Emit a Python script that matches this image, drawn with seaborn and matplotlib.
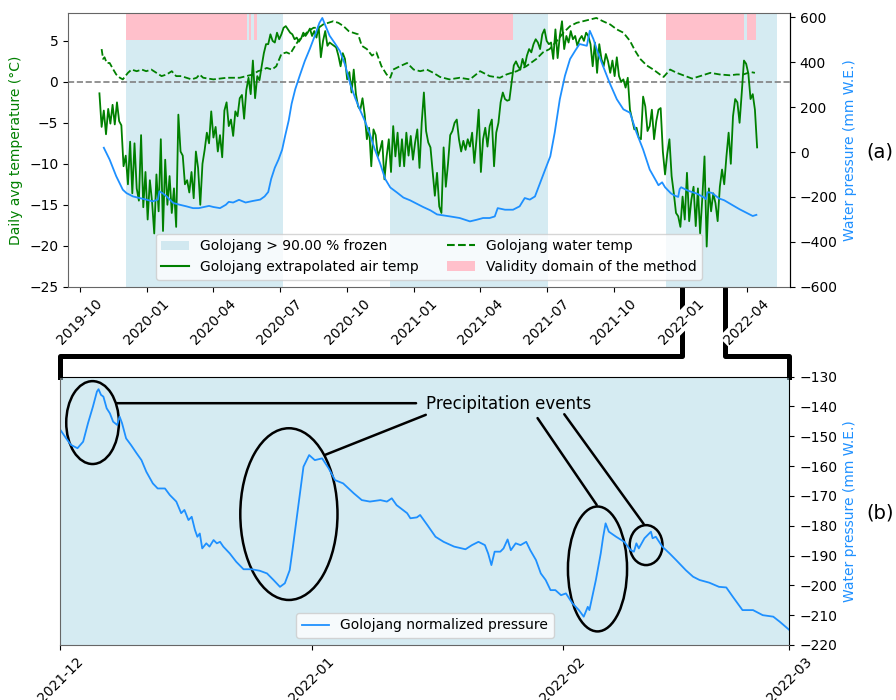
"""Golojang lake: temperatures, frozen periods and water pressure, with a zoom on winter 2021-22."""

import pandas as pd
import seaborn as sns
import matplotlib.pyplot as plt
import matplotlib.dates as mdates
from matplotlib.lines import Line2D
from matplotlib.patches import Ellipse, Patch

# ---- data ---------------------------------------------------------------
ORIGIN = pd.Timestamp("2019-10-01")

# extrapolated air temperature (degC), one value every 3 days from 2019-10-28
air_start = "2019-10-28"
air_temp = [
    -1.4, -5.5, -3.5, -6.4, -3.3, -5.1, -2.8, -5.2, -2.5, -4.8, -5.3,
    -10.3, -9.0, -12.5, -7.3, -13.6, -7.5, -13.0, -14.5, -6.5, -15.3,
    -11.0, -16.8, -12.0, -14.6, -18.5, -11.3, -15.8, -7.0, -18.2, -9.5,
    -15.0, -11.5, -16.0, -13.0, -17.7,
    -4.0, -8.5, -9.0, -12.5, -12.0, -13.5, -11.0, -14.2, -8.5, -10.5,
    -15.0, -10.0, -8.3, -6.2, -7.5, -3.6, -6.8, -5.5, -8.5, -6.5,
    -9.2, -3.5, -2.5, -5.4, -4.6, -6.6, -3.6, -4.2, -2.0, -1.6,
    -4.5, -1.0, 0.5, -1.5, 2.6,
    -2.0, 0.7, 0.2, 1.9, 3.5, 4.6, 4.6, 5.8, 5.0, 4.8,
    6.0, 5.2, 5.8, 6.6, 6.8, 6.4, 6.0, 5.8, 5.2, 5.4,
    4.9, 5.3, 6.0, 5.6, 6.0, 6.5, 5.6, 6.2, 5.4, 6.8,
    3.0, 5.0, 6.2, 4.4, 4.8, 4.6, 4.4, 4.2, 3.2, 1.9,
    3.5, 2.8, 0.3, 1.2, -1.3, 1.5, -1.5, -3.0, -3.4, -2.0,
    -4.0, -7.0, -5.6, -10.3, -5.8, -6.5, -9.1, -8.3, -7.2, -11.9,
    -9.1, -7.0, -11.0, -5.4, -9.1, -6.2, -10.3, -7.0, -10.3, -6.2,
    -9.0, -6.6, -9.5, -7.4, -5.8, -10.5, -5.0, -1.3, -6.0, -7.4,
    -8.0, -11.0, -13.9, -11.1, -15.2, -16.0, -8.0, -12.8, -10.0,
    -6.5, -6.0, -5.0, -4.6, -7.0, -8.5, -7.2, -8.3, -7.0, -7.9,
    -6.2, -9.9, -7.0, -3.4, -11.0, -7.0, -5.6, -7.9, -5.4, -4.6,
    -10.3, -6.2, -5.0, -2.5, -1.3, -2.1, -2.3, -2.2, -0.1, 2.0,
    2.5, 1.9, 1.5, 2.8, 1.9, 3.2, 4.0, 3.6, 4.6, 5.2,
    4.8, 4.0, 5.8, 6.4, 5.0, 4.6, 4.8, 2.8, 6.4, 2.9,
    5.6, 7.4, 4.0, 5.6, 4.8, 6.2, 5.2, 5.6, 4.4, 5.2,
    5.6, 5.0, 6.0, 5.6, 4.6, 1.9, 4.8, 1.1, 4.6, 2.8,
    1.9, 3.4, 2.5, 1.1, 2.6, 0.7, 3.0, 0.7, 0.0, 0.3,
    -0.7, 0.5, -3.4, -4.6, -5.8, -5.6, -6.8, -7.0, -1.8, -3.0,
    -6.0, -5.4, -3.4, -7.0, -4.8, -3.4, -3.2, -8.5, -11.3, -8.8,
    -7.0, -11.5, -13.6, -16.0, -16.4, -17.7, -14.0, -16.8, -11.1, -17.0,
    -14.4, -12.8, -17.6, -13.0, -18.5, -14.2, -9.1, -20.1, -13.0, -15.8,
    -13.6, -14.8, -17.0, -12.8, -10.7, -12.5, -9.1, -6.2, -10.0, -4.2,
    -2.1, -2.5, -5.0, -1.3, 2.6, 2.2, 1.0, -2.1, -1.5, -3.4,
    -8.0,
]

# water temperature (degC), days since 2019-10-01
water_day = [
    30, 32, 34, 37, 41, 46, 50, 55, 59, 66, 71, 78, 85, 91, 98, 105, 112, 119,
    126, 132, 139, 146, 153, 160, 164, 169, 176, 183, 192, 201, 210, 219, 228,
    237, 244, 251, 256, 263, 269, 276, 283, 288, 292, 299, 306, 313, 320, 327,
    333, 340, 347, 354, 361, 368, 374, 381, 386, 393, 400, 406, 413, 420, 425,
    429, 438, 448, 457, 466, 475, 484, 493, 506, 520, 534, 548, 561, 575, 584,
    598, 611, 625, 634, 643, 653, 662, 671, 680, 689, 698, 707, 716, 726, 735,
    744, 753, 760, 767, 776, 785, 794, 799, 808, 817, 826, 838, 849, 863, 876,
    890, 899, 908, 918, 924,
]
water_temp = [
    4.0, 2.8, 3.0, 2.3, 2.3, 1.5, 0.9, 0.5, 0.3, 1.1, 1.5, 1.3, 1.5, 1.3, 1.5,
    1.1, 0.7, 0.9, 1.3, 0.7, 0.7, 0.5, 0.3, 0.5, 0.9, 0.5, 0.4, 0.3, 0.4, 0.5,
    0.5, 0.5, 0.7, 0.9, 1.3, 1.5, 1.7, 1.5, 1.9, 3.4, 3.6, 3.4, 4.0, 5.0, 5.6,
    6.2, 6.6, 6.6, 7.0, 7.2, 7.4, 7.2, 6.8, 6.2, 6.0, 5.8, 4.4, 4.0, 3.2, 3.6,
    1.9, 0.9, 0.5, 1.5, 1.9, 2.3, 1.5, 1.3, 1.5, 1.1, 0.6, 0.3, 0.5, 0.3, 1.3,
    0.7, 0.5, 0.9, 1.3, 1.9, 2.8, 3.6, 4.0, 5.0, 6.0, 6.8, 7.2, 7.4, 7.6, 7.8,
    7.4, 7.0, 6.4, 6.0, 5.0, 3.8, 2.8, 2.0, 1.5, 0.9, 0.6, 1.5, 1.1, 0.8, 0.4,
    0.7, 1.1, 0.9, 0.8, 0.9, 0.9, 1.2, 1.1,
]

# water pressure (mm W.E.), days since 2019-10-01
press_day = [
    33, 41, 50, 59, 64, 73, 82, 91, 100, 107, 109, 114, 119, 128, 137, 146, 155,
    163, 170, 177, 183, 192, 200, 204, 210, 218, 227, 237, 247, 253, 258, 262,
    267, 272, 277, 281, 286, 290, 295, 301, 308, 315, 322, 328, 332, 336, 342,
    349, 356, 363, 370, 377, 384, 390, 397, 404, 411, 418, 425, 434, 443, 452,
    461, 470, 480, 489, 493, 507, 520, 534, 543, 552, 561, 568, 572, 582, 593,
    602, 609, 616, 623, 630, 637, 644, 650, 657, 664, 671, 678, 684, 694, 698,
    703, 709, 716, 725, 735, 744, 753, 762, 771, 780, 789, 792, 797, 801, 809,
    814, 819, 821, 823, 833, 845, 855, 857, 859, 865, 875, 882, 894, 903, 912,
    921, 926,
]
press_val = [
    19, -34, -108, -168, -183, -198, -205, -212, -220, -212, -175, -185, -198,
    -227, -235, -242, -250, -250, -245, -240, -245, -250, -235, -222, -225,
    -213, -225, -218, -212, -198, -178, -120, -70, -34, 10, 70, 140, 215, 280,
    339, 405, 460, 520, 575, 597, 565, 518, 485, 450, 390, 305, 240, 185, 140,
    80, 10, -50, -120, -158, -180, -203, -215, -230, -245, -260, -278, -280,
    -287, -294, -309, -302, -294, -294, -287, -250, -257, -257, -242, -205,
    -212, -198, -138, -78, -19, 86, 235, 339, 414, 451, 481, 473, 540, 503,
    443, 384, 309, 235, 190, 175, 86, 11, -78, -130, -148, -135, -157, -184,
    -194, -200, -165, -157, -173, -186, -204, -210, -179, -182, -207, -215,
    -238, -255, -270, -285, -280,
]

frozen_start = ["2019-12-04", "2020-11-29", "2021-12-11"]
frozen_end = ["2020-07-05", "2021-07-03", "2022-05-12"]
valid_start = ["2019-12-04", "2020-05-20", "2020-05-27", "2020-11-29", "2021-12-11", "2022-04-01"]
valid_end = ["2020-05-17", "2020-05-22", "2020-05-30", "2021-05-16", "2022-03-28", "2022-04-13"]

# zoom (b): normalized pressure (mm W.E.), days since 2021-12-01
zoom_start = pd.Timestamp("2021-12-01")
zoom_day = [
    0.0, 0.7, 1.3, 2.1, 2.8, 3.4, 4.0, 4.5, 4.7, 5.0,
    5.3, 5.7, 6.1, 6.5, 7.0, 7.3, 7.6, 8.1, 8.7, 9.4,
    10.0, 10.6, 11.4, 12.0, 12.9, 13.5, 14.3, 14.9, 15.3, 15.8,
    16.2, 16.6, 16.9, 17.2, 17.5, 18.0, 18.4, 18.9, 19.3, 19.7,
    20.1, 20.9, 21.7, 22.6, 23.6, 24.6, 25.5, 26.3, 27.1, 27.7,
    28.3, 28.7, 29.4, 30.0, 30.7, 31.4, 32.3, 33.1, 33.9, 34.9,
    36.2, 37.2, 38.2, 39.5, 40.3, 40.9, 41.5, 42.8, 43.2, 44.0,
    44.4, 45.3, 46.3, 47.3, 48.6, 50.0, 50.8, 51.6, 52.4, 52.8,
    53.2, 53.6, 54.3, 54.7, 55.2, 55.6, 56.2, 56.8, 57.5, 58.0,
    58.7, 59.3, 59.9, 60.5, 61.1, 61.8, 62.4, 63.2, 64.0, 64.6,
    65.1, 65.3, 66.1, 66.7, 67.0, 67.3, 67.7, 68.6, 69.6, 70.4,
    70.8, 71.1, 71.4, 72.1, 72.5, 72.9, 73.1, 73.5, 74.3, 75.2,
    76.0, 77.2, 78.1, 78.9, 80.1, 81.3, 82.2, 83.0, 84.2, 85.5,
    86.7, 88.0, 88.8, 90.0,
]
zoom_press = [
    -147.9, -150.7, -152.9, -154.0, -151.8, -145.6, -140.1, -135.0, -134.2, -136.1,
    -136.7, -140.6, -142.3, -145.1, -146.2, -143.4, -145.6, -150.7, -152.9, -155.7,
    -158.0, -161.9, -165.8, -167.5, -167.5, -169.7, -171.9, -175.8, -174.7, -178.1,
    -177.0, -181.4, -183.7, -182.6, -187.6, -185.9, -187.0, -184.8, -185.9, -185.4,
    -187.0, -189.3, -192.1, -194.6, -194.6, -195.1, -196.0, -198.2, -200.5, -199.3,
    -194.9, -187.0, -172.5, -160.2, -156.3, -158.0, -157.4, -160.7, -164.7, -165.8,
    -169.1, -171.4, -171.9, -171.4, -171.9, -170.8, -173.1, -175.8, -177.5, -177.2,
    -176.4, -179.8, -183.7, -185.4, -187.0, -187.9, -186.5, -185.4, -186.5, -189.3,
    -193.2, -188.7, -188.7, -187.6, -184.6, -188.2, -185.9, -186.5, -185.4, -188.2,
    -191.5, -196.0, -198.2, -201.6, -201.6, -203.3, -202.7, -206.0, -208.3, -210.5,
    -207.2, -208.3, -198.2, -189.3, -183.7, -179.2, -182.0, -183.7, -185.4, -188.2,
    -188.7, -185.9, -187.6, -184.2, -183.1, -182.0, -184.2, -183.7, -187.0, -189.3,
    -191.5, -194.9, -197.1, -198.2, -199.1, -200.5, -200.7, -203.8, -208.3, -208.3,
    -210.0, -210.5, -212.2, -215.0,
]

# ---- build dates ----------------------------------------------------------
air_dates = pd.date_range(air_start, periods=len(air_temp), freq="3D")
water_dates = ORIGIN + pd.to_timedelta(water_day, unit="D")
press_dates = ORIGIN + pd.to_timedelta(press_day, unit="D")
zoom_dates = zoom_start + pd.to_timedelta(zoom_day, unit="D")

GREEN = "green"
BLUE = "dodgerblue"
SPINE = "0.4"

fig = plt.figure(figsize=(8.96, 7), dpi=100)
ax = fig.add_axes([0.0759, 0.5904, 0.8058, 0.3910])
axp = ax.twinx()
axb = fig.add_axes([0.0675, 0.0786, 0.8136, 0.3833])

# ---- panel (a) -----------------------------------------------------------
for s, e in zip(frozen_start, frozen_end):
    ax.axvspan(pd.Timestamp(s), pd.Timestamp(e), color="lightblue", alpha=0.5, lw=0)
for s, e in zip(valid_start, valid_end):
    ax.axvspan(pd.Timestamp(s), pd.Timestamp(e), ymin=0.9, ymax=1.0, color="pink", lw=0)
ax.axhline(0, color="gray", linestyle="--", lw=1.2)

sns.lineplot(x=air_dates, y=air_temp, ax=ax, color=GREEN, lw=1.3, estimator=None)
sns.lineplot(x=water_dates, y=water_temp, ax=ax, color=GREEN, lw=1.3,
             linestyle="--", estimator=None)
sns.lineplot(x=press_dates, y=press_val, ax=axp, color=BLUE, lw=1.3, estimator=None)

ax.set_xlim(pd.Timestamp("2019-09-15"), pd.Timestamp("2022-05-30"))
ax.set_ylim(-25, 8.4)
axp.set_ylim(-600, 619)
ax.set_yticks([-25, -20, -15, -10, -5, 0, 5])
axp.set_yticks(range(-600, 601, 200))
ax.xaxis.set_major_locator(mdates.MonthLocator(bymonth=[1, 4, 7, 10]))
ax.xaxis.set_major_formatter(mdates.DateFormatter("%Y-%m"))
ax.tick_params(axis="x", labelrotation=45)
ax.set_xlabel("")
ax.set_ylabel("Daily avg temperature (°C)", color=GREEN)
axp.set_ylabel("Water pressure (mm W.E.)", color=BLUE)
for side in ["left", "top", "bottom"]:
    ax.spines[side].set_color(SPINE)
    axp.spines[side].set_visible(False)

handles = [
    Patch(facecolor="lightblue", alpha=0.5),
    Line2D([], [], color=GREEN),
    Line2D([], [], color=GREEN, linestyle="--"),
    Patch(facecolor="pink"),
]
labels = [
    "Golojang > 90.00 % frozen",
    "Golojang extrapolated air temp",
    "Golojang water temp",
    "Validity domain of the method",
]
axp.legend(handles, labels, loc="lower center", ncol=2)

# ---- panel (b) -----------------------------------------------------------
axb.set_facecolor((173 / 255, 216 / 255, 230 / 255, 0.5))
sns.lineplot(x=zoom_dates, y=zoom_press, ax=axb, color=BLUE, lw=1.3,
             estimator=None, label="Golojang normalized pressure")
axb.set_xlim(pd.Timestamp("2021-12-01"), pd.Timestamp("2022-03-01"))
axb.set_ylim(-220, -130)
axb.set_yticks(range(-220, -129, 10))
axb.yaxis.tick_right()
axb.yaxis.set_label_position("right")
axb.set_ylabel("Water pressure (mm W.E.)", color=BLUE)
axb.xaxis.set_major_locator(mdates.MonthLocator())
axb.xaxis.set_major_formatter(mdates.DateFormatter("%Y-%m"))
axb.tick_params(axis="x", labelrotation=45)
axb.set_xlabel("")
axb.spines["left"].set_color(SPINE)
axb.spines["bottom"].set_color(SPINE)
axb.legend(loc="lower center")


def zd(days):
    return mdates.date2num(zoom_start + pd.Timedelta(days=days))


# ellipses around the precipitation events: centre (days, value), width, height
for cx, cy, w, h in [(3.96, -145.4, 6.5, 27.8), (28.2, -176.1, 12.0, 57.6),
                     (66.3, -194.5, 7.3, 41.9), (72.3, -186.5, 4.05, 13.4)]:
    axb.add_patch(Ellipse((zd(cx), cy), w, h, fill=False, ec="black", lw=1.8))

axb.text(zd(45.1), -139.2, "Precipitation events", fontsize=12, ha="left", va="center")
for (x0, y0), (x1, y1) in [((43.9, -138.9), (6.9, -138.9)),
                           ((45.1, -142.8), (32.7, -156.2)),
                           ((58.9, -143.9), (66.2, -173.0)),
                           ((62.2, -142.6), (72.0, -179.4))]:
    axb.annotate("", xy=(zd(x1), y1), xytext=(zd(x0), y0),
                 arrowprops=dict(arrowstyle="-", color="black", lw=1.8,
                                 shrinkA=0, shrinkB=0))

fig.text(0.982, 0.783, "(a)", fontsize=14, ha="center", va="center")
fig.text(0.982, 0.267, "(b)", fontsize=14, ha="center", va="center")

# bracket linking the two panels (figure fractions)
fig.add_artist(Line2D([0.0675, 0.0675, 0.7612, 0.7612], [0.4619, 0.4914, 0.4914, 0.590],
                      transform=fig.transFigure, color="black", lw=3.6, zorder=-1))
fig.add_artist(Line2D([0.8092, 0.8092, 0.8811, 0.8811], [0.5914, 0.4914, 0.4914, 0.4619],
                      transform=fig.transFigure, color="black", lw=3.6, zorder=-1))

fig.canvas.draw()
for lab in ax.get_xticklabels():
    lab.set_bbox(dict(facecolor="white", edgecolor="none", pad=1.5))

fig.savefig("out.png", dpi=100)
